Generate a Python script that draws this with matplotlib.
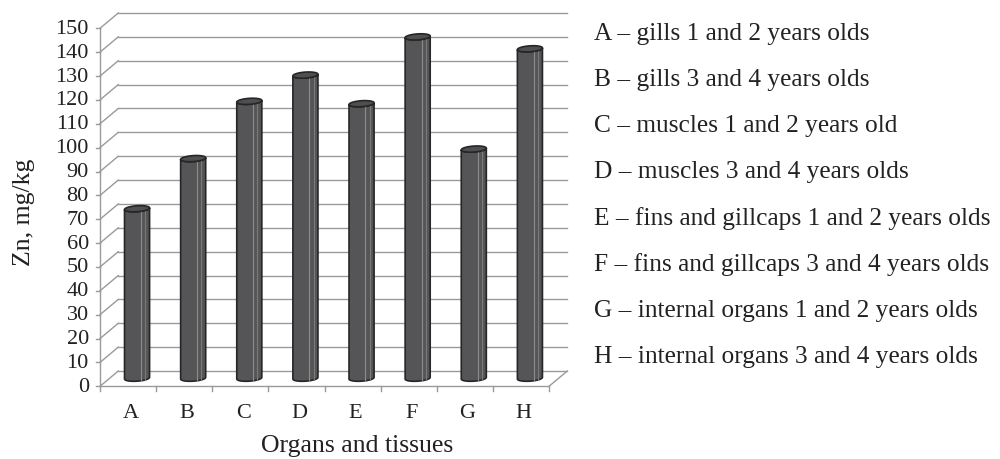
import numpy as np
import matplotlib
matplotlib.use("Agg")
import matplotlib.pyplot as plt
from matplotlib.patches import Polygon

# Zn content by organ / tissue and age group
categories = ["A", "B", "C", "D", "E", "F", "G", "H"]
zn_values = [71, 92, 116, 127, 115, 143, 96, 138]
legend_labels = [
    "A – gills 1 and 2 years olds",
    "B – gills 3 and 4 years olds",
    "C – muscles 1 and 2 years old",
    "D – muscles 3 and 4 years olds",
    "E – fins and gillcaps 1 and 2 years olds",
    "F – fins and gillcaps 3 and 4 years olds",
    "G – internal organs 1 and 2 years olds",
    "H – internal organs 3 and 4 years olds",
]
y_ticks = list(range(0, 151, 10))

plt.rcParams["font.family"] = ["Liberation Serif", "DejaVu Serif"]

W, H = 1000, 460
fig = plt.figure(figsize=(W / 100, H / 100), dpi=100)
# front plane of the 3-D box: x 0..8 categories, y 0..150
x0_px, x1_px = 100, 549
y0_px, y1_px = 387.3, 29.3
ax = fig.add_axes([x0_px / W, (H - y0_px) / H, (x1_px - x0_px) / W, (y0_px - y1_px) / H])
n = len(categories)
ax.set_xlim(0, n)
ax.set_ylim(0, 150)
ax.axis("off")

grid_c = "#9a9a9a"
txt_c = "#222222"
# oblique depth offset of the back wall (in data units)
dx_back, dy_back = 0.325, 6.4

# left wall diagonals + back wall gridlines
for v in y_ticks:
    ax.plot([0, dx_back], [v, v + dy_back], color=grid_c, lw=1.0, clip_on=False)
    ax.plot([dx_back, n + dx_back], [v + dy_back, v + dy_back], color=grid_c, lw=1.0, clip_on=False)
    # tick marks on the front vertical axis
    ax.plot([-0.07, 0], [v, v], color=grid_c, lw=1.0, clip_on=False)
    ax.text(-0.2, v, str(v), ha="right", va="center", fontsize=16, color=txt_c)

# front axis line, floor front edge and floor right edge
ax.plot([0, 0], [0, 150], color=grid_c, lw=1.0, clip_on=False)
ax.plot([0, n], [0, 0], color=grid_c, lw=1.0, clip_on=False)
ax.plot([n, n + dx_back], [0, dy_back], color=grid_c, lw=1.0, clip_on=False)
for i in range(n + 1):
    ax.plot([i, i], [0, -1.8], color=grid_c, lw=1.0, clip_on=False)

# cylinders sit halfway into the depth of the box
bdx, bdy = 0.16, 2.1
r = 0.215          # half width in category units
sx, sy = 0.06, 1.3  # slant of the elliptic caps
t = np.linspace(0, 2 * np.pi, 361)
ex = r * np.cos(t) + sx * np.sin(t)
ey = sy * np.sin(t)
iL, iR = np.argmin(ex), np.argmax(ex)

def front_half(ex, ey):
    # lower (front) part of the cap contour, from the leftmost to the rightmost point
    idx = np.arange(iL, iR + 1) if iL < iR else np.r_[np.arange(iL, len(t)), np.arange(0, iR + 1)]
    return ex[idx], ey[idx]

fx, fy = front_half(ex, ey)
for i, v in enumerate(zn_values):
    cx = i + 0.5 + bdx
    base = bdy + sy
    top = v + bdy + sy
    body_x = np.r_[cx + fx, cx + fx[::-1]]
    body_y = np.r_[top + fy, base + fy[::-1]]
    ax.add_patch(Polygon(np.c_[body_x, body_y], closed=True, facecolor="#555557",
                         edgecolor="#262626", lw=1.2, zorder=3, clip_on=False))
    # subtle highlight streaks along the cylinder
    for frac, col in [(0.66, "#8c8c8c"), (0.84, "#7a7a7a")]:
        xx = cx - r + 2 * r * frac
        ax.plot([xx, xx], [base - 0.6, top - 0.8], color=col, lw=0.8, zorder=4, clip_on=False)
    ax.add_patch(Polygon(np.c_[cx + ex, top + ey], closed=True, facecolor="#4f4f51",
                         edgecolor="#262626", lw=1.2, zorder=5, clip_on=False))

# category labels
for i, c in enumerate(categories):
    ax.text(i + 0.55, -11, c, ha="center", va="center", fontsize=16, color=txt_c)

fig.text(357 / W, 1 - 446 / H, "Organs and tissues", ha="center", va="center",
         fontsize=18.5, color=txt_c)
fig.text(24 / W, 1 - 212 / H, "Zn, mg/kg", ha="center", va="center", rotation=90,
         fontsize=18.5, color=txt_c)

# explanatory list of categories
for k, lab in enumerate(legend_labels):
    fig.text(594 / W, 1 - (34 + 46.1 * k) / H, lab, ha="left", va="center",
             fontsize=18.3, color=txt_c)

fig.savefig("out.png", dpi=100)
